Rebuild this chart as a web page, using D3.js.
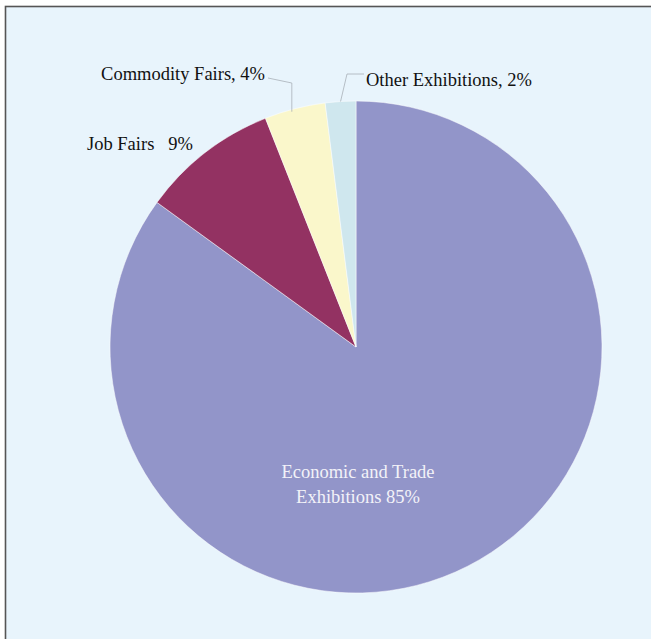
<!DOCTYPE html>
<html><head><meta charset="utf-8">
<script src="https://cdn.jsdelivr.net/npm/d3@7"></script>
<style>html,body{margin:0;padding:0;background:#fff;overflow:hidden}</style>
</head><body>
<script>
const categories = ["Economic and Trade Exhibitions", "Job Fairs", "Commodity Fairs", "Other Exhibitions"];
const values = [85, 9, 4, 2];
const colors = ["#9295C9", "#933262", "#FAF7CB", "#CFE7EE"];

const W = 651, H = 639;
const cx = 356, cy = 347, R = 246;

const svg = d3.select("body").append("svg").attr("width", W).attr("height", H);
svg.append("rect").attr("x", 5.5).attr("y", 6.5).attr("width", W + 10).attr("height", H + 10)
  .attr("fill", "#E8F4FC").attr("stroke", "#555").attr("stroke-width", 1.6);

const pie = d3.pie().sort(null).value(d => d);
const arcs = pie(values);
const arc = d3.arc().innerRadius(0).outerRadius(R);
const g = svg.append("g").attr("transform", `translate(${cx},${cy})`);
g.selectAll("path").data(arcs).enter().append("path")
  .attr("d", arc).attr("fill", (d, i) => colors[i])
  .attr("stroke", "#fff").attr("stroke-width", 0.5);

const font = "'Liberation Serif','Times New Roman',serif";
const fs = 18.5;

// Economic label inside
const econ = g.append("text").attr("text-anchor", "middle")
  .attr("font-family", font).attr("font-size", fs).attr("fill", "#F2F2F8");
econ.append("tspan").attr("x", 2).attr("y", 131).text("Economic and Trade");
econ.append("tspan").attr("x", 2).attr("y", 156).text("Exhibitions " + values[0] + "%");

// Job Fairs label
g.append("text").attr("x", 87 - cx).attr("y", 150 - cy)
  .attr("font-family", font).attr("font-size", fs).attr("fill", "#111")
  .attr("xml:space", "preserve").text(categories[1] + "   " + values[1] + "%");

// leader lines
const outerPt = d => { const a = (d.startAngle + d.endAngle) / 2; return [R * Math.sin(a), -R * Math.cos(a)]; };
const line = d3.line();
const pC = outerPt(arcs[2]);
g.append("path").attr("d", line([[pC[0] - 3, pC[1] + 3], [pC[0] - 3, 83 - cy], [268 - cx, 78 - cy]]))
  .attr("fill", "none").attr("stroke", "#A8B0B8").attr("stroke-width", 0.8);
const pO = outerPt(arcs[3]);
g.append("path").attr("d", line([[pO[0], pO[1]], [347 - cx, 74 - cy], [364 - cx, 74 - cy]]))
  .attr("fill", "none").attr("stroke", "#A8B0B8").attr("stroke-width", 0.8);

g.append("text").attr("x", 265 - cx).attr("y", 80 - cy).attr("text-anchor", "end")
  .attr("font-family", font).attr("font-size", fs).attr("fill", "#111")
  .text(categories[2] + ", " + values[2] + "%");
g.append("text").attr("x", 366 - cx).attr("y", 86 - cy)
  .attr("font-family", font).attr("font-size", fs).attr("fill", "#111")
  .text(categories[3] + ", " + values[3] + "%");
</script>
</body></html>
